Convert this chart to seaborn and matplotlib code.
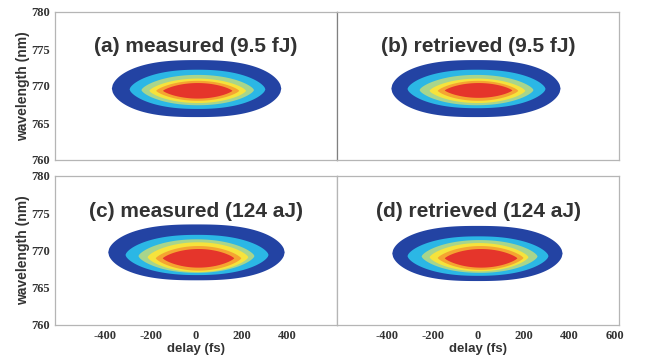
import numpy as np
import matplotlib
matplotlib.use("Agg")
import matplotlib.pyplot as plt
import seaborn as sns

# ---------------- data ----------------
panel_titles = ["(a) measured (9.5 fJ)", "(b) retrieved (9.5 fJ)",
                "(c) measured (124 aJ)", "(d) retrieved (124 aJ)"]
level_colors = ["#2343a3", "#2bb7e5", "#a8d58c", "#f6e33c", "#f5a431", "#e5352b"]

# contour band extents: delay left / right (fs), wavelength bottom / top (nm)
a_t_left = [-370, -292, -240, -205, -175, -145]
a_t_right = [375, 305, 255, 220, 190, 160]
a_wl_low = [765.8, 766.9, 767.4, 767.7, 768.0, 768.3]
a_wl_high = [773.5, 772.2, 771.5, 771.0, 770.7, 770.4]

b_t_left = [-381, -310, -257, -213, -177, -146]
b_t_right = [363, 297, 244, 208, 177, 151]
b_wl_low = [765.8, 767.0, 767.4, 767.7, 768.0, 768.4]
b_wl_high = [773.5, 772.2, 771.5, 771.0, 770.7, 770.4]

c_t_left = [-386, -310, -253, -213, -177, -146]
c_t_right = [390, 319, 257, 230, 199, 168]
c_wl_low = [766.0, 766.7, 767.0, 767.1, 767.3, 767.7]
c_wl_high = [773.5, 772.1, 771.5, 771.1, 770.6, 770.2]

d_t_left = [-377, -310, -248, -213, -177, -146]
d_t_right = [372, 310, 262, 222, 200, 173]
d_wl_low = [765.9, 766.6, 767.0, 767.2, 767.4, 767.7]
d_wl_high = [773.3, 771.9, 771.4, 771.0, 770.6, 770.2]

# exponents of each band outline (horizontal / vertical)
shape_px = [2.6, 2.3, 2.1, 2.0, 2.0, 2.0]
shape_qy = [1.8, 1.55, 1.45, 1.4, 1.3, 1.25]

y_ticks = [760, 765, 770, 775, 780]
x_ticks_left = [-400, -200, 0, 200, 400]
x_ticks_right = [-400, -200, 0, 200, 400, 600]

panels = [
    (a_t_left, a_t_right, a_wl_low, a_wl_high),
    (b_t_left, b_t_right, b_wl_low, b_wl_high),
    (c_t_left, c_t_right, c_wl_low, c_wl_high),
    (d_t_left, d_t_right, d_wl_low, d_wl_high),
]

# ---------------- style ----------------
sns.set_theme(style="white")
plt.rcParams["font.family"] = ["Liberation Sans", "DejaVu Sans"]

fig = plt.figure(figsize=(6.46, 3.56), dpi=100)
W, H = 646, 356
boxes = [(55, 12, 282, 148), (337, 12, 282, 148),
         (55, 176, 282, 149), (337, 176, 282, 149)]

tick_font = dict(family=["Liberation Serif", "DejaVu Serif"], weight="bold", size=9)
spine_col = "#b5b5b5"


def band_outline(tl, tr, wl_lo, wl_hi, p, q, n=200):
    tc = 0.5 * (tl + tr)
    wc = 0.5 * (wl_lo + wl_hi)
    a_l, a_r = tc - tl, tr - tc
    b_lo, b_hi = wc - wl_lo, wl_hi - wc
    u = np.linspace(-1, 1, n)
    h = np.clip(1 - np.abs(u) ** p, 0, 1) ** (1.0 / q)
    t = np.where(u < 0, tc + u * a_l, tc + u * a_r)
    top = wc + b_hi * h
    bot = wc - b_lo * h
    xs = np.concatenate([t, t[::-1]])
    ys = np.concatenate([top, bot[::-1]])
    return xs, ys


for i, (box, data, title) in enumerate(zip(boxes, panels, panel_titles)):
    x0, y0, w, h = box
    ax = fig.add_axes([x0 / W, 1 - (y0 + h) / H, w / W, h / H])
    tl_list, tr_list, lo_list, hi_list = data
    for k in range(len(level_colors)):
        xs, ys = band_outline(tl_list[k], tr_list[k], lo_list[k], hi_list[k],
                              shape_px[k], shape_qy[k])
        ax.fill(xs, ys, color=level_colors[k], lw=0)
    ax.set_xlim(-620, 620)
    ax.set_ylim(760, 780)
    ax.set_yticks(y_ticks)
    ax.set_xticks(x_ticks_right if i == 3 else x_ticks_left)
    ax.text(0, 775.3, title, ha="center", va="center", fontsize=15,
            fontweight="bold", color="#333333")
    for s in ax.spines.values():
        s.set_color(spine_col)
        s.set_linewidth(0.9)
    ax.tick_params(length=1.5, width=0.6, color=spine_col, pad=2)
    if i % 2 == 0:
        ax.set_yticklabels([str(v) for v in y_ticks], fontdict=tick_font, color="#333333")
        ax.set_ylabel("wavelength (nm)", fontsize=10, fontweight="bold",
                      color="#333333", labelpad=1)
    else:
        ax.set_yticklabels([])
    if i >= 2:
        ticks = x_ticks_right if i == 3 else x_ticks_left
        ax.set_xticklabels([str(v) for v in ticks], fontdict=tick_font, color="#333333")
        ax.set_xlabel("delay (fs)", fontsize=9.5, fontweight="bold",
                      color="#333333", labelpad=0.5)
    else:
        ax.set_xticklabels([])
    if i == 1:
        ax.spines["left"].set_color("#808080")

fig.savefig("out.png", dpi=100)
